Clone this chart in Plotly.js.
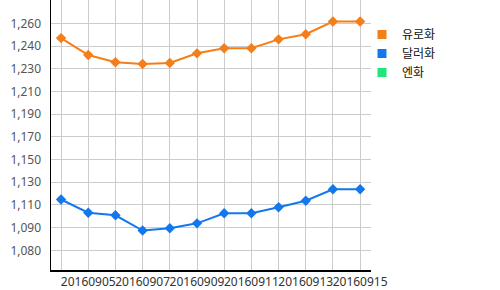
<!DOCTYPE html>
<html>
<head>
<meta charset="utf-8">
<script src="https://cdn.plot.ly/plotly-3.0.1.min.js"></script>
<style>
html,body{margin:0;padding:0;background:#fff;}
#chart{width:500px;height:290px;}
</style>
</head>
<body>
<div id="chart"></div>
<script>
// Categories (dates)
const dates = ['20160904','20160905','20160906','20160907','20160908','20160909',
               '20160910','20160911','20160912','20160913','20160914','20160915'];
// Series values (on the chart's linear scale)
const euroValues = [1248.3, 1234.9, 1229.1, 1227.7, 1228.5, 1236.2,
                    1240.2, 1240.2, 1247.3, 1251.4, 1261.4, 1261.4];
const dollarValues = [1120.3, 1109.8, 1107.8, 1095.7, 1097.5, 1101.4,
                      1109.4, 1109.4, 1114.2, 1119.3, 1128.4, 1128.4];
const yenValues = [null, null, null, null, null, null,
                   null, null, null, null, null, null];
// Series names
const seriesNames = ['유로화', '달러화', '엔화'];
// Y tick positions and their printed labels
const yTickVals = [1080, 1098, 1116, 1134, 1152, 1170, 1188, 1206, 1224, 1242, 1260];
const yTickText = ['1,080', '1,090', '1,110', '1,130', '1,150', '1,170',
                   '1,190', '1,210', '1,230', '1,240', '1,260'];
// X tick labels (every other date shown)
const xTickText = dates.map((d, i) => (i % 2 === 1 ? d : ''));

const colors = ['#F47E1A', '#1478EC', '#1EE67A'];
const font = 'Noto Sans, Noto Sans CJK KR, sans-serif';

function lineTrace(x, y, color) {
  return {
    type: 'scatter', mode: 'lines+markers', x: x, y: y,
    line: {color: color, width: 2},
    marker: {symbol: 'diamond', size: 8, color: color},
    showlegend: false, hoverinfo: 'x+y'
  };
}
// legend-only entries (square swatches), no visible points
function legendTrace(name, color) {
  return {
    type: 'scatter', mode: 'markers', x: dates, y: yenValues, name: name,
    marker: {symbol: 'square', size: 9, color: color},
    showlegend: true
  };
}

const data = [
  lineTrace(dates, euroValues, colors[0]),
  lineTrace(dates, dollarValues, colors[1]),
  lineTrace(dates, yenValues, colors[2]),
  legendTrace(seriesNames[0], colors[0]),
  legendTrace(seriesNames[1], colors[1]),
  legendTrace(seriesNames[2], colors[2])
];

const layout = {
  width: 500, height: 290,
  margin: {l: 51, r: 129, t: 0, b: 20, pad: 0},
  paper_bgcolor: '#fff', plot_bgcolor: '#fff',
  font: {family: font, size: 12, color: '#333'},
  xaxis: {
    type: 'category',
    range: [-0.37, 11.4],
    tickmode: 'array', tickvals: dates, ticktext: xTickText,
    tickangle: 0, ticks: '',
    showgrid: true, gridcolor: '#cccccc', gridwidth: 1,
    showline: true, linecolor: '#000', linewidth: 1.5,
    zeroline: false,
    tickfont: {family: font, size: 12, color: '#333'}
  },
  yaxis: {
    range: [1064.4, 1278.5],
    tickmode: 'array', tickvals: yTickVals, ticktext: yTickText,
    ticks: '', ticklabelstandoff: 6,
    showgrid: true, gridcolor: '#cccccc', gridwidth: 1,
    showline: true, linecolor: '#000', linewidth: 1.5,
    zeroline: false,
    tickfont: {family: font, size: 12, color: '#555'}
  },
  legend: {
    xref: 'paper', yref: 'paper', yanchor: 'top',
    bgcolor: 'rgba(0,0,0,0)', borderwidth: 0,
    font: {family: font, size: 12, color: '#111'},
    tracegroupgap: 0, itemwidth: 30
  },
  showlegend: true
};
// legend position in paper fraction
layout.legend.x = (362 - 51) / (500 - 51 - 129);
layout.legend.y = 1 - (20 - 0) / (290 - 20);

Plotly.newPlot('chart', data, layout, {displayModeBar: false, staticPlot: true});
</script>
</body>
</html>
